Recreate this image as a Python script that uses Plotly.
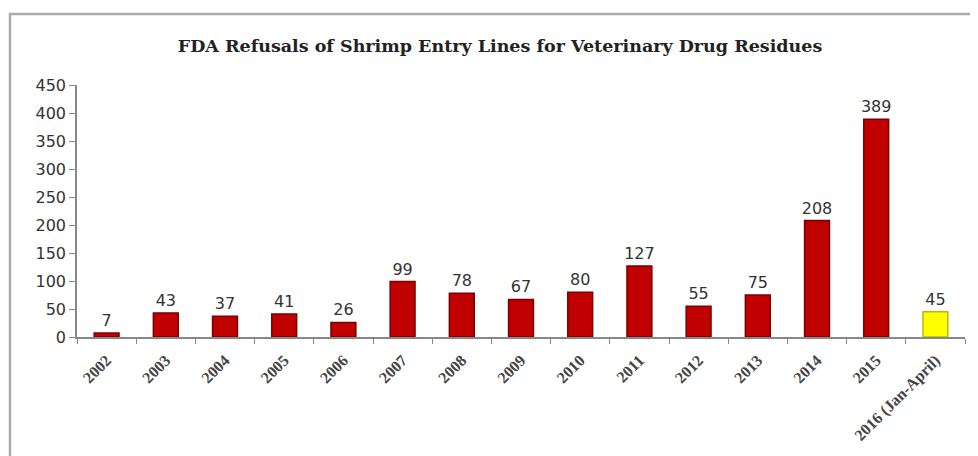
import plotly.graph_objects as go

categories = ["2002", "2003", "2004", "2005", "2006", "2007", "2008", "2009",
              "2010", "2011", "2012", "2013", "2014", "2015", "2016 (Jan-April)"]
refusals = [7, 43, 37, 41, 26, 99, 78, 67, 80, 127, 55, 75, 208, 389, 45]
bar_colors = ["#C00000"] * 14 + ["#FFFF00"]
line_colors = ["#7A0000"] * 14 + ["#B8B800"]

OFF = 8  # page body margin
W, H = 978 - OFF, 456 - OFF
# target positions in screenshot coordinates
plot_left, plot_right, plot_top, plot_bottom = 77, 965, 85, 337
L = plot_left - OFF
T = plot_top - OFF
R = W - (plot_right - OFF)
B = H - (plot_bottom - OFF)

fig = go.Figure(go.Bar(
    x=categories, y=refusals,
    marker=dict(color=bar_colors, line=dict(color=line_colors, width=1.5)),
    width=0.42,
    text=[str(v) for v in refusals], textposition="outside",
    constraintext="none",
    textfont=dict(family="DejaVu Sans", size=16, color="#333333"),
    cliponaxis=False,
))

pw = W - L - R
ph = H - T - B
def px(x):
    return (x - OFF - L) / pw
def py(y):
    return (H - B - (y - OFF)) / ph

fig.update_layout(
    width=W, height=H,
    margin=dict(l=L, r=R, t=T, b=B),
    plot_bgcolor="white", paper_bgcolor="white",
    showlegend=False,
    title=dict(text="<b>FDA Refusals of Shrimp Entry Lines for Veterinary Drug Residues</b>",
               x=(500 - OFF) / W, xanchor="center", y=1 - (46 - OFF) / H, yanchor="middle",
               font=dict(family="DejaVu Serif", size=17.5, color="#222222")),
    xaxis=dict(showline=True, linecolor="#888888", linewidth=1.5,
               ticks="outside", ticklen=5, tickcolor="#888888",
               tickson="boundaries", tickangle=-45, ticklabelstandoff=6,
               tickfont=dict(family="Liberation Serif", size=16, color="#444444",
                             weight="bold"),
               showgrid=False),
    yaxis=dict(range=[0, 450], dtick=50, showline=True, linecolor="#888888",
               linewidth=1.5, ticks="outside", ticklen=6, tickcolor="#888888",
               tickfont=dict(family="DejaVu Sans", size=16, color="#333333"),
               showgrid=False, zeroline=False),
    shapes=[dict(type="rect", xref="paper", yref="paper",
                 x0=px(10), x1=px(975), y0=py(500), y1=py(14),
                 line=dict(color="#AAAAAA", width=2.5), fillcolor="rgba(0,0,0,0)")],
)

fig.write_html("out.html")
